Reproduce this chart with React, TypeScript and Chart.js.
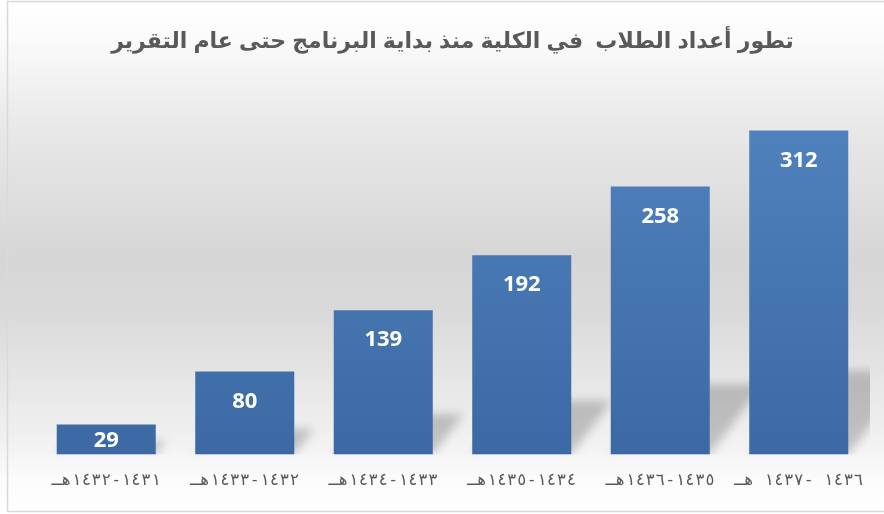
import { useEffect, useRef } from "react";
import { Chart, registerables } from "chart.js";
Chart.register(...registerables);

const TITLE = "تطور أعداد الطلاب  في الكلية منذ بداية البرنامج حتى عام التقرير";
const CATEGORIES = [
  "١٤٣١-١٤٣٢هـ",
  "١٤٣٢-١٤٣٣هـ",
  "١٤٣٣-١٤٣٤هـ",
  "١٤٣٤-١٤٣٥هـ",
  "١٤٣٥-١٤٣٦هـ",
  "١٤٣٦ -١٤٣٧ هـ",
];
const STUDENTS = [29, 80, 139, 192, 258, 312];
const Y_MAX = 350;

const ARABIC_FONT = "Arial, 'DejaVu Sans', sans-serif";
const TICK_FONT = "'DejaVu Sans Mono', 'DejaVu Sans', monospace";

const backgroundPlugin = {
  id: "bgPlugin",
  beforeDraw(chart: any) {
    const { ctx, width, height } = chart;
    ctx.save();
    const g = ctx.createLinearGradient(0, 0, 0, height);
    g.addColorStop(0, "#ffffff");
    g.addColorStop(0.07, "#fbfbfb");
    g.addColorStop(0.25, "#e8e8e8");
    g.addColorStop(0.5, "#d6d6d6");
    g.addColorStop(0.6, "#d9d9d9");
    g.addColorStop(0.85, "#f0f0f0");
    g.addColorStop(0.93, "#fbfbfb");
    g.addColorStop(1, "#ffffff");
    ctx.fillStyle = g;
    ctx.fillRect(0, 0, width, height);
    ctx.strokeStyle = "#d9d9d9";
    ctx.lineWidth = 1.5;
    ctx.strokeRect(7.5, 1.5, width, height - 4);
    ctx.restore();
  },
};

const barStylePlugin = {
  id: "barStyle",
  beforeDatasetsDraw(chart: any) {
    const { ctx, chartArea } = chart;
    const meta = chart.getDatasetMeta(0);
    // shadows
    ctx.save();
    const base0 = meta.data.length ? meta.data[0].getProps(["base"], true).base : chartArea.bottom;
    ctx.beginPath();
    ctx.rect(0, 0, chartArea.right + 2, base0);
    ctx.clip();
    ctx.filter = "blur(5px)";
    ctx.fillStyle = "rgba(0,0,0,0.2)";
    meta.data.forEach((el: any) => {
      const { x, y, base, width } = el.getProps(["x", "y", "base", "width"], true);
      const left = x - width / 2;
      const right = x + width / 2;
      const h = (base - y) * 0.24 + 6;
      const dx = h * 0.75;
      ctx.beginPath();
      ctx.moveTo(left, base);
      ctx.lineTo(right, base);
      ctx.lineTo(right + dx, base - h);
      ctx.lineTo(left + dx, base - h);
      ctx.closePath();
      ctx.fill();
    });
    ctx.restore();
    // gradients
    meta.data.forEach((el: any) => {
      const { y, base } = el.getProps(["y", "base"], true);
      const g = ctx.createLinearGradient(0, y, 0, base);
      g.addColorStop(0, "#4f81bd");
      g.addColorStop(1, "#3c69a3");
      el.options.backgroundColor = g;
    });
  },
  afterDatasetsDraw(chart: any) {
    const { ctx } = chart;
    const meta = chart.getDatasetMeta(0);
    ctx.save();
    ctx.font = "bold 22px 'Open Sans', sans-serif";
    ctx.fillStyle = "#ffffff";
    ctx.textAlign = "center";
    ctx.textBaseline = "middle";
    meta.data.forEach((el: any, i: number) => {
      const { x, y, base } = el.getProps(["x", "y", "base"], true);
      const ty = Math.min(y + 30, (y + base) / 2 + 1);
      ctx.fillText(String(STUDENTS[i]), x, ty);
    });
    ctx.restore();
  },
};

export default function App() {
  const ref = useRef<HTMLCanvasElement>(null);
  useEffect(() => {
    if (!ref.current) return;
    const chart = new Chart(ref.current, {
      type: "bar",
      data: {
        labels: CATEGORIES,
        datasets: [
          {
            data: STUDENTS,
            backgroundColor: "#4a78b5",
            borderWidth: 0,
            barPercentage: 0.715,
            categoryPercentage: 1,
          },
        ],
      },
      options: {
        responsive: false,
        animation: false,
        layout: { padding: { left: 37, right: 16, top: 0, bottom: 7.6 } },
        plugins: {
          legend: { display: false },
          tooltip: { enabled: false },
          title: {
            display: true,
            text: TITLE,
            color: "#595959",
            font: { family: ARABIC_FONT, size: 22, weight: "bold" },
            padding: { top: 28.8, bottom: 35.8 },
          },
        },
        scales: {
          x: {
            grid: { display: false, drawTicks: false },
            border: { display: false },
            ticks: {
              color: "#595959",
              font: { family: TICK_FONT, size: 16.5 },
              padding: 16,
              maxRotation: 0,
              autoSkip: false,
            },
          },
          y: { display: false, min: 0, max: Y_MAX },
        },
      },
      plugins: [backgroundPlugin, barStylePlugin],
    } as any);
    return () => chart.destroy();
  }, []);
  return (
    <div style={{ position: "fixed", left: 0, top: 0, width: 884, height: 514 }}>
      <canvas ref={ref} width={884} height={514} style={{ display: "block" }} />
    </div>
  );
}
